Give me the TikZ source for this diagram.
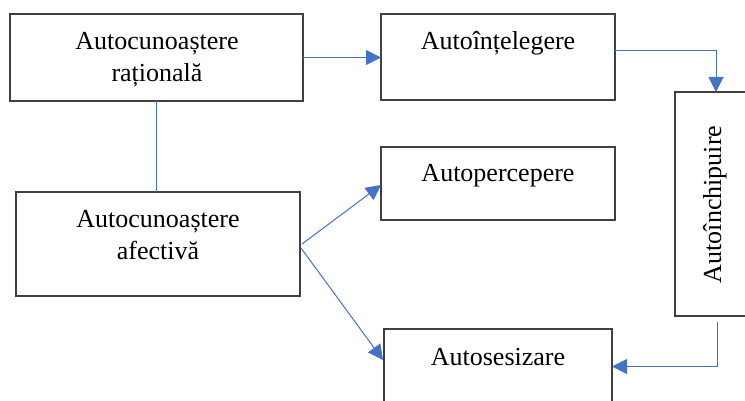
\documentclass[tikz,border=0pt]{standalone}
\usepackage{fontspec}
\setmainfont{Liberation Serif}
\usetikzlibrary{arrows.meta,calc}
\definecolor{linkblue}{HTML}{4472C4}
\definecolor{boxgray}{HTML}{404040}
\tikzset{
  box/.style={draw=boxgray, line width=1.1pt, inner sep=0pt, outer sep=0pt, fill=white},
  lbl/.style={inner sep=0pt, anchor=base, font=\fontsize{26}{32}\selectfont},
  conn/.style={draw=linkblue, line width=1pt},
  arr/.style={-{Triangle[length=15pt,width=15pt]}}
}
\begin{document}
\begin{tikzpicture}[x=1pt,y=-1pt]
\useasboundingbox (0,0) rectangle (745,401);
\clip (0,0) rectangle (745,401);
\fill[white] (0,0) rectangle (745,401);
% boxes
\node[box, minimum width=293pt, minimum height=87pt] (A) at (156.5,57.5) {};
\node[box, minimum width=284pt, minimum height=104pt] (B) at (158,244) {};
\node[box, minimum width=234pt, minimum height=86pt] (C) at (498,57) {};
\node[box, minimum width=234pt, minimum height=73pt] (D) at (498,183.5) {};
\node[box, minimum width=228pt, minimum height=91pt] (E) at (498,374.5) {};
\node[box, minimum width=85pt, minimum height=224pt] (F) at (717.5,204) {};
% labels
\node[lbl] (tA1) at (157,50) {Autocunoaștere};
\node[lbl] (tA2) at (157,82) {rațională};
\node[lbl] (tB1) at (158,227) {Autocunoaștere};
\node[lbl] (tB2) at (158,259) {afectivă};
\node[lbl] (tC) at (498,50) {Autoînțelegere};
\node[lbl] (tD) at (498,182) {Autopercepere};
\node[lbl] (tE) at (498,365) {Autosesizare};
\node[lbl, rotate=90] (tF) at (721,204.5) {Autoînchipuire};
% connectors
\draw[conn] (A.south) -- (A.south |- B.north);
\draw[conn,arr] (A.east) -- (C.west |- A.east);
\draw[conn,arr] ([yshift=6pt]C.east) -| ([xshift=-1.5pt]F.north);
\draw[conn,arr] ([yshift=-6pt]F.south) |- ([yshift=8pt]E.east);
\draw[conn,arr] ([xshift=2pt]B.east) -- ([yshift=-1.5pt]D.west);
\draw[conn,arr] ([xshift=1pt,yshift=-4pt]B.east) -- ([xshift=-1pt,yshift=14.5pt]E.west);
\end{tikzpicture}
\end{document}
